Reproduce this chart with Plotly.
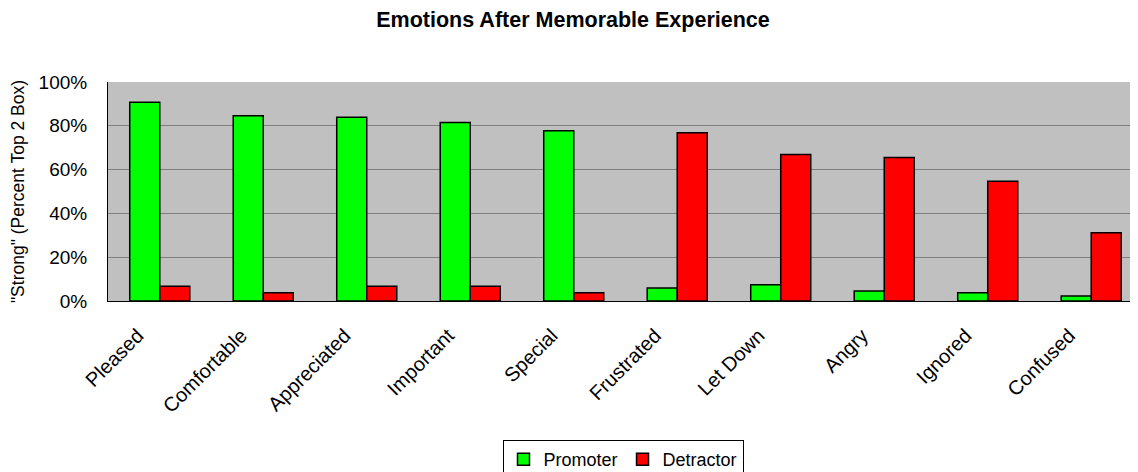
import plotly.graph_objects as go

categories = ['Pleased', 'Comfortable', 'Appreciated', 'Important', 'Special',
              'Frustrated', 'Let Down', 'Angry', 'Ignored', 'Confused']
promoter = [0.907, 0.846, 0.839, 0.815, 0.777, 0.059, 0.074, 0.046, 0.038, 0.023]
detractor = [0.067, 0.038, 0.067, 0.067, 0.038, 0.768, 0.669, 0.655, 0.547, 0.312]

font = 'Liberation Sans, Arial, sans-serif'

fig = go.Figure()
fig.add_trace(go.Bar(x=categories, y=promoter, name='Promoter',
                     marker=dict(color='#00FF00', line=dict(color='black', width=1.5))))
fig.add_trace(go.Bar(x=categories, y=detractor, name='Detractor',
                     marker=dict(color='#FF0000', line=dict(color='black', width=1.5))))

# page body adds an 8px offset; the legend box runs past the bottom edge like the original
fig.update_layout(
    width=1130,
    height=472,
    autosize=False,
    barmode='group',
    bargap=0.42,
    bargroupgap=0,
    paper_bgcolor='white',
    plot_bgcolor='#C0C0C0',
    font=dict(family=font, size=19, color='black'),
    title=dict(text='<b>Emotions After Memorable Experience</b>', x=0.5, xanchor='center',
               y=1 - 11 / 472, yanchor='middle', font=dict(size=21.5)),
    margin=dict(l=100, r=0, t=74, b=179, pad=0, autoexpand=False),
    showlegend=True,
    legend=dict(orientation='h', x=0.5, xanchor='center', y=-0.635, yanchor='top',
                bordercolor='black', borderwidth=1, bgcolor='white',
                font=dict(size=18), itemwidth=30),
)
fig.update_xaxes(range=[-0.5, 9.452], tickangle=-45, showline=True, linecolor='black',
                 linewidth=1, showgrid=False, ticks='', ticklabelshift=-22,
                 ticklabelstandoff=14, tickfont=dict(size=20), automargin=False)
fig.update_yaxes(range=[0, 1], dtick=0.2, tickformat='.0%', showline=True,
                 linecolor='black', linewidth=1, showgrid=True, gridcolor='#808080',
                 gridwidth=1, zeroline=False, ticks='', ticklabelstandoff=16,
                 title=dict(text='"Strong" (Percent Top 2 Box)', standoff=10,
                            font=dict(size=17.5)),
                 automargin=False)

fig.write_html("out.html")
